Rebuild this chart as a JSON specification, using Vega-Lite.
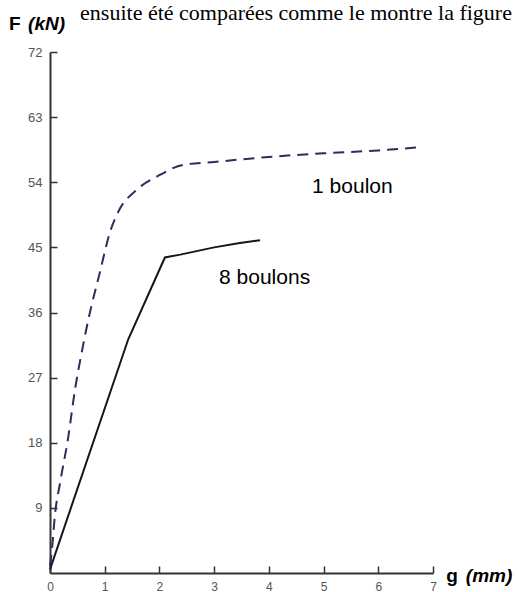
{
  "$schema": "https://vega.github.io/schema/vega-lite/v6.json",
  "autosize": {"type": "none"},
  "width": 383,
  "height": 521,
  "padding": {"left": 50, "top": 52, "right": 85, "bottom": 19},
  "background": "white",
  "datasets": {
    "courbes": [
      {"g": 0, "F": 1, "serie": "1 boulon"},
      {"g": 0.04, "F": 3.6, "serie": "1 boulon"},
      {"g": 0.09, "F": 8, "serie": "1 boulon"},
      {"g": 0.18, "F": 12.3, "serie": "1 boulon"},
      {"g": 0.33, "F": 18.6, "serie": "1 boulon"},
      {"g": 0.46, "F": 25.5, "serie": "1 boulon"},
      {"g": 0.58, "F": 30.5, "serie": "1 boulon"},
      {"g": 0.7, "F": 35, "serie": "1 boulon"},
      {"g": 0.91, "F": 41.5, "serie": "1 boulon"},
      {"g": 1.1, "F": 47.2, "serie": "1 boulon"},
      {"g": 1.24, "F": 49.8, "serie": "1 boulon"},
      {"g": 1.59, "F": 53, "serie": "1 boulon"},
      {"g": 1.96, "F": 54.8, "serie": "1 boulon"},
      {"g": 2.43, "F": 56.4, "serie": "1 boulon"},
      {"g": 3.0, "F": 56.8, "serie": "1 boulon"},
      {"g": 4.0, "F": 57.5, "serie": "1 boulon"},
      {"g": 5.0, "F": 58.0, "serie": "1 boulon"},
      {"g": 6.0, "F": 58.4, "serie": "1 boulon"},
      {"g": 6.7, "F": 58.8, "serie": "1 boulon"},
      {"g": 0, "F": 0.5, "serie": "8 boulons"},
      {"g": 1.43, "F": 32.3, "serie": "8 boulons"},
      {"g": 2.1, "F": 43.6, "serie": "8 boulons"},
      {"g": 2.38, "F": 44.0, "serie": "8 boulons"},
      {"g": 3.0, "F": 45.0, "serie": "8 boulons"},
      {"g": 3.47, "F": 45.6, "serie": "8 boulons"},
      {"g": 3.84, "F": 46.0, "serie": "8 boulons"}
    ]
  },
  "layer": [
    {
      "data": {"name": "courbes"},
      "transform": [{"filter": "datum.serie === '1 boulon'"}],
      "mark": {"type": "line", "strokeWidth": 2, "interpolate": "monotone", "color": "#2b2d5c", "strokeDash": [11, 7]},
      "encoding": {
        "x": {
          "field": "g",
          "type": "quantitative",
          "scale": {"domain": [0, 7], "nice": false, "zero": false},
          "axis": {
            "values": [0, 1, 2, 3, 4, 5, 6, 7],
            "format": "d",
            "title": null,
            "grid": false,
            "tickSize": -7,
            "labelPadding": 15,
            "labelFontSize": 12,
            "labelFont": "Liberation Sans",
            "labelColor": "#555555",
            "domainColor": "#333333",
            "domainWidth": 2,
            "tickColor": "#333333",
            "tickWidth": 1.5,
            "labelFlush": false
          }
        },
        "y": {
          "field": "F",
          "type": "quantitative",
          "scale": {"domain": [0, 72], "nice": false},
          "axis": {
            "values": [9, 18, 27, 36, 45, 54, 63, 72],
            "format": "d",
            "title": null,
            "grid": false,
            "tickSize": -7,
            "labelPadding": 15,
            "labelFontSize": 13,
            "labelFont": "Liberation Sans",
            "labelColor": "#555555",
            "domainColor": "#333333",
            "domainWidth": 2,
            "tickColor": "#333333",
            "tickWidth": 1.5,
            "labelFlush": false
          }
        }
      }
    },
    {
      "data": {"name": "courbes"},
      "transform": [{"filter": "datum.serie === '8 boulons'"}],
      "mark": {"type": "line", "strokeWidth": 2, "interpolate": "linear", "color": "#15151f"},
      "encoding": {
        "x": {"field": "g", "type": "quantitative"},
        "y": {"field": "F", "type": "quantitative"}
      }
    },
    {
      "data": {"values": [{}]},
      "mark": {"type": "text", "font": "Liberation Serif", "fontSize": 22, "align": "left", "baseline": "alphabetic", "color": "#000000"},
      "encoding": {"x": {"datum": 0.55}, "y": {"datum": 76.4}, "text": {"value": "ensuite été comparées comme le montre la figure"}}
    },
    {
      "data": {"values": [{}]},
      "mark": {"type": "text", "font": "Liberation Sans", "fontSize": 21, "align": "left", "baseline": "alphabetic", "color": "#000000"},
      "encoding": {"x": {"datum": 4.79}, "y": {"datum": 52.5}, "text": {"value": "1 boulon"}}
    },
    {
      "data": {"values": [{}]},
      "mark": {"type": "text", "font": "Liberation Sans", "fontSize": 21, "align": "left", "baseline": "alphabetic", "color": "#000000"},
      "encoding": {"x": {"datum": 3.09}, "y": {"datum": 39.9}, "text": {"value": "8 boulons"}}
    },
    {
      "data": {"values": [{}]},
      "mark": {"type": "text", "font": "Liberation Sans", "fontSize": 19, "fontWeight": "bold", "align": "left", "baseline": "alphabetic", "color": "#000000"},
      "encoding": {"x": {"datum": -0.75}, "y": {"datum": 75.0}, "text": {"value": "F"}}
    },
    {
      "data": {"values": [{}]},
      "mark": {"type": "text", "font": "Liberation Sans", "fontSize": 19, "fontWeight": "bold", "fontStyle": "italic", "align": "left", "baseline": "alphabetic", "color": "#000000"},
      "encoding": {"x": {"datum": -0.4}, "y": {"datum": 75.0}, "text": {"value": "(kN)"}}
    },
    {
      "data": {"values": [{}]},
      "mark": {"type": "text", "font": "Liberation Sans", "fontSize": 19, "fontWeight": "bold", "align": "left", "baseline": "alphabetic", "color": "#000000"},
      "encoding": {"x": {"datum": 7.24}, "y": {"datum": -1.2}, "text": {"value": "g"}}
    },
    {
      "data": {"values": [{}]},
      "mark": {"type": "text", "font": "Liberation Sans", "fontSize": 19, "fontWeight": "bold", "fontStyle": "italic", "align": "left", "baseline": "alphabetic", "color": "#000000"},
      "encoding": {"x": {"datum": 7.6}, "y": {"datum": -1.2}, "text": {"value": "(mm)"}}
    }
  ],
  "config": {"view": {"stroke": null}}
}
